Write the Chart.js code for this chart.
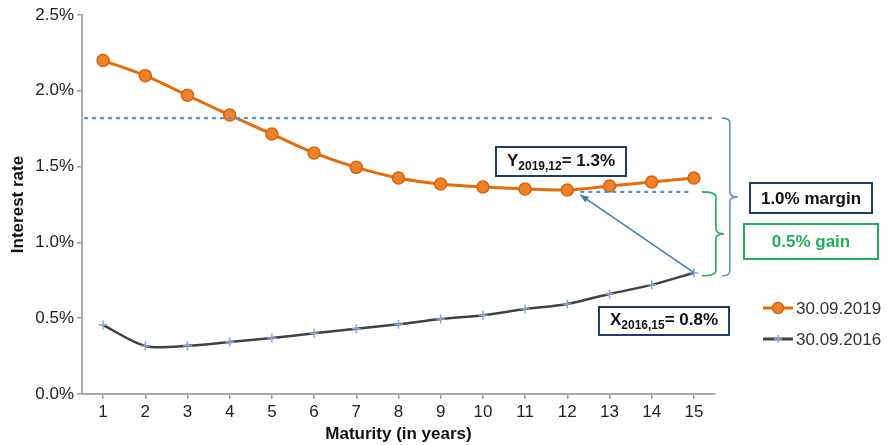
<!DOCTYPE html>
<html>
<head>
<meta charset="utf-8">
<script src="https://cdn.jsdelivr.net/npm/chart.js@4/dist/chart.umd.min.js"></script>
<style>
  html, body { margin: 0; padding: 0; background: #fff; }
  #wrap { width: 890px; height: 445px; }
</style>
</head>
<body>
<div id="wrap"><canvas id="yieldChart" width="890" height="445"></canvas></div>
<script>
const maturities = ['1','2','3','4','5','6','7','8','9','10','11','12','13','14','15'];
const rates2019 = [2.20, 2.10, 1.97, 1.84, 1.715, 1.59, 1.495, 1.425, 1.385, 1.365, 1.352, 1.346, 1.372, 1.398, 1.425];
const rates2016 = [0.455, 0.317, 0.318, 0.343, 0.37, 0.40, 0.43, 0.46, 0.495, 0.52, 0.56, 0.594, 0.66, 0.72, 0.80];
const seriesNames = ['30.09.2019', '30.09.2016'];
const yTicks = [0, 0.5, 1.0, 1.5, 2.0, 2.5];

// levels used by the brackets / dashed guides
const marginLevels = [1.82, 0.78];
const gainLevels = [1.333, 0.78];

const FONT = "'Liberation Sans', Arial, sans-serif";
const ORANGE = '#E46C0A';
const DARK = '#404040';
const NAVY = '#1F3B73';
const BLUE = '#5B93D0';
const GREEN = '#1FAE5B';

const annotations = {
    id: 'annotations',
    afterDatasetsDraw(chart) {
        const ctx = chart.ctx;
        const x = chart.scales.x, y = chart.scales.y;
        const area = chart.chartArea;
        const last = maturities.length - 1;

        ctx.save();
        // dashed guides
        ctx.strokeStyle = BLUE;
        ctx.lineWidth = 2.2;
        ctx.setLineDash([4, 4]);
        ctx.beginPath();
        ctx.moveTo(area.left + 2, y.getPixelForValue(marginLevels[0]));
        ctx.lineTo(x.getPixelForValue(last) + 18, y.getPixelForValue(marginLevels[0]));
        ctx.moveTo(x.getPixelForValue(11) + 13, y.getPixelForValue(gainLevels[0]));
        ctx.lineTo(x.getPixelForValue(last) - 4, y.getPixelForValue(gainLevels[0]));
        ctx.stroke();
        ctx.setLineDash([]);

        // arrow from X(2016,15) to Y level
        const ax0 = x.getPixelForValue(last), ay0 = y.getPixelForValue(rates2016[last]);
        const ax1 = x.getPixelForValue(11) + 13, ay1 = y.getPixelForValue(gainLevels[0]) + 3;
        ctx.strokeStyle = '#3C7CC4';
        ctx.fillStyle = '#3C7CC4';
        ctx.lineWidth = 1.5;
        ctx.beginPath();
        ctx.moveTo(ax0, ay0);
        ctx.lineTo(ax1, ay1);
        ctx.stroke();
        const ang = Math.atan2(ay1 - ay0, ax1 - ax0);
        ctx.beginPath();
        ctx.moveTo(ax1, ay1);
        ctx.lineTo(ax1 - 9 * Math.cos(ang - 0.4), ay1 - 9 * Math.sin(ang - 0.4));
        ctx.lineTo(ax1 - 9 * Math.cos(ang + 0.4), ay1 - 9 * Math.sin(ang + 0.4));
        ctx.closePath();
        ctx.fill();

        // brackets
        function bracket(xl, top, bot, w, color) {
            const t = y.getPixelForValue(top), b = y.getPixelForValue(bot);
            const m = (t + b) / 2, r = 5;
            ctx.strokeStyle = color;
            ctx.lineWidth = 1.6;
            ctx.beginPath();
            ctx.moveTo(xl, t);
            ctx.quadraticCurveTo(xl + w, t, xl + w, t + r);
            ctx.lineTo(xl + w, m - r);
            ctx.quadraticCurveTo(xl + w, m, xl + w + 8, m);
            ctx.moveTo(xl + w + 8, m);
            ctx.quadraticCurveTo(xl + w, m, xl + w, m + r);
            ctx.lineTo(xl + w, b - r);
            ctx.quadraticCurveTo(xl + w, b, xl, b);
            ctx.stroke();
        }
        bracket(x.getPixelForValue(last) + 28, marginLevels[0], marginLevels[1], 8, BLUE);
        bracket(x.getPixelForValue(last) + 8, gainLevels[0], gainLevels[1], 14, GREEN);

        // boxes
        function box(bx, by, bw, bh, color) {
            ctx.fillStyle = '#fff';
            ctx.fillRect(bx, by, bw, bh);
            ctx.strokeStyle = color;
            ctx.lineWidth = 2;
            ctx.strokeRect(bx, by, bw, bh);
        }
        function subLabel(cx, cy, main, sub, rest) {
            ctx.fillStyle = '#111';
            ctx.textBaseline = 'middle';
            ctx.font = 'bold 17px ' + FONT;
            const w1 = ctx.measureText(main).width;
            const w3 = ctx.measureText(rest).width;
            ctx.font = 'bold 12px ' + FONT;
            const w2 = ctx.measureText(sub).width;
            let sx = cx - (w1 + w2 + w3) / 2;
            ctx.textAlign = 'left';
            ctx.font = 'bold 17px ' + FONT;
            ctx.fillText(main, sx, cy);
            ctx.font = 'bold 12px ' + FONT;
            ctx.fillText(sub, sx + w1, cy + 6);
            ctx.font = 'bold 17px ' + FONT;
            ctx.fillText(rest, sx + w1 + w2, cy);
        }
        box(496, 147, 130, 29, NAVY);
        subLabel(561, 161, 'Y', '2019,12', '= 1.3%');
        box(599, 307, 130, 28, NAVY);
        subLabel(664, 320, 'X', '2016,15', '= 0.8%');

        box(750, 183, 122, 30, NAVY);
        ctx.fillStyle = '#111';
        ctx.textAlign = 'center';
        ctx.textBaseline = 'middle';
        ctx.font = 'bold 17px ' + FONT;
        ctx.fillText('1.0% margin', 811, 199);

        box(744, 224, 134, 35, GREEN);
        ctx.fillStyle = GREEN;
        ctx.fillText('0.5% gain', 811, 242);

        // legend
        const ds = chart.data.datasets;
        ds.forEach((d, i) => {
            const ly = 308 + i * 31;
            ctx.strokeStyle = d.borderColor;
            ctx.lineWidth = 3;
            ctx.beginPath();
            ctx.moveTo(763, ly);
            ctx.lineTo(793, ly);
            ctx.stroke();
            if (i === 0) {
                ctx.fillStyle = d.pointBackgroundColor;
                ctx.strokeStyle = d.pointBorderColor;
                ctx.lineWidth = 1.5;
                ctx.beginPath();
                ctx.arc(778, ly, 5.5, 0, Math.PI * 2);
                ctx.fill();
                ctx.stroke();
            } else {
                ctx.strokeStyle = d.pointBorderColor;
                ctx.lineWidth = 1.5;
                ctx.beginPath();
                ctx.moveTo(778, ly - 4); ctx.lineTo(778, ly + 4);
                ctx.moveTo(774, ly); ctx.lineTo(782, ly);
                ctx.stroke();
            }
            ctx.fillStyle = '#333';
            ctx.font = '17px ' + FONT;
            ctx.textAlign = 'left';
            ctx.fillText(d.label, 796, ly + 1);
        });
        ctx.restore();
    }
};

new Chart(document.getElementById('yieldChart'), {
    type: 'line',
    data: {
        labels: maturities,
        datasets: [{
            label: seriesNames[0],
            data: rates2019,
            borderColor: ORANGE,
            borderWidth: 3,
            pointRadius: 6,
            pointBackgroundColor: '#EE8228',
            pointBorderColor: '#D9620C',
            pointBorderWidth: 1.5,
            tension: 0.3
        }, {
            label: seriesNames[1],
            data: rates2016,
            borderColor: DARK,
            borderWidth: 2.5,
            pointStyle: 'cross',
            pointRadius: 4.5,
            pointBorderColor: '#86A8D8',
            pointBorderWidth: 1.5,
            tension: 0.3
        }]
    },
    options: {
        responsive: false,
        animation: false,
        devicePixelRatio: 1,
        layout: { padding: { left: 0, top: 15, right: 175, bottom: 0 } },
        plugins: { legend: { display: false }, tooltip: { enabled: false } },
        scales: {
            x: {
                offset: true,
                grid: { drawOnChartArea: false, drawTicks: true, tickLength: 5, color: '#999', lineWidth: 1.5 },
                border: { color: '#aaa', width: 2 },
                ticks: { color: '#222', font: { family: FONT, size: 17 }, padding: 3, maxRotation: 0 },
                title: { display: true, text: 'Maturity (in years)', color: '#111', font: { family: FONT, size: 17, weight: 'bold' }, padding: { top: 0, bottom: 0 } },
                afterFit: s => { s.height = 51; }
            },
            y: {
                min: 0,
                max: 2.5,
                afterBuildTicks: s => { s.ticks = yTicks.map(v => ({ value: v })); },
                grid: { drawOnChartArea: false, drawTicks: true, tickLength: 5, color: '#999', lineWidth: 1.5 },
                border: { color: '#aaa', width: 2 },
                ticks: { color: '#222', font: { family: FONT, size: 17 }, padding: 3, callback: v => v.toFixed(1) + '%' },
                title: { display: true, text: 'Interest rate', color: '#111', font: { family: FONT, size: 17, weight: 'bold' }, padding: { top: 8, bottom: 2 } },
                afterFit: s => { s.width = 82; }
            }
        }
    },
    plugins: [annotations]
});
</script>
</body>
</html>
